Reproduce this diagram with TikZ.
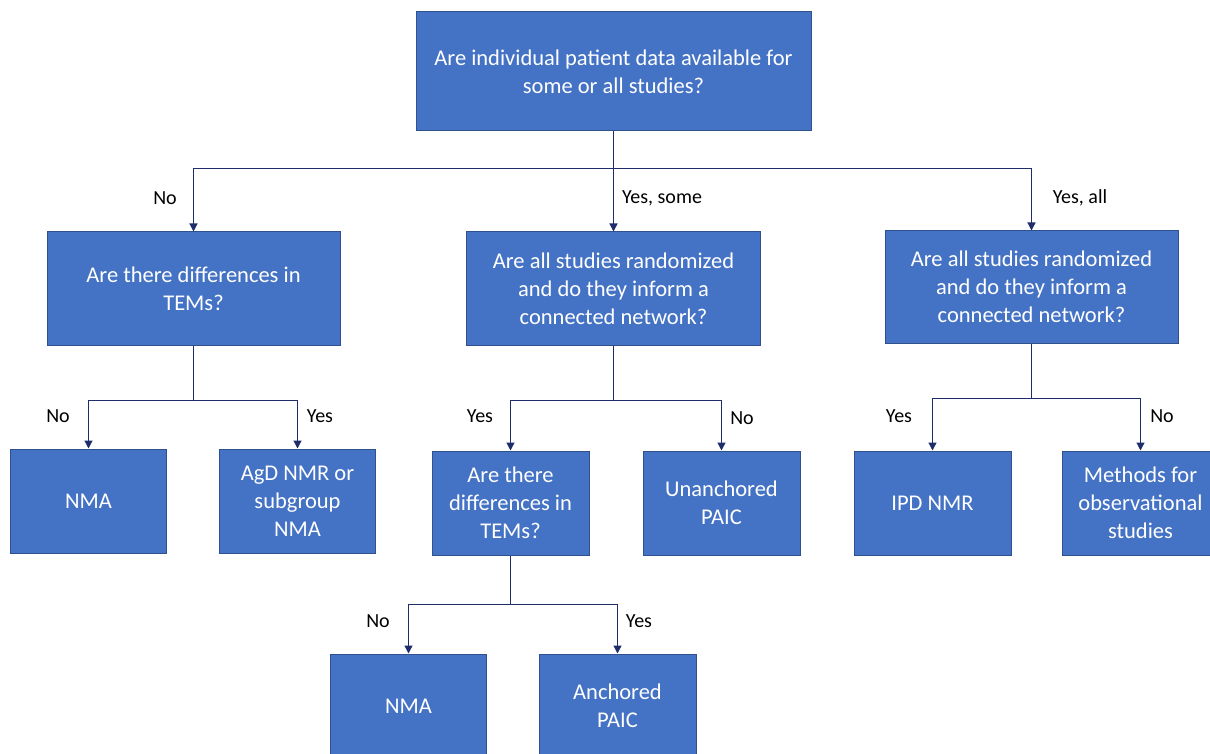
\documentclass[tikz,border=0pt]{standalone}
\usepackage{fontspec}
\setmainfont{Carlito}
\usetikzlibrary{arrows.meta}
\definecolor{BoxBlue}{RGB}{68,114,196}
\definecolor{BoxEdge}{RGB}{47,82,143}
\definecolor{LineNavy}{RGB}{31,45,107}

\begin{document}
\begin{tikzpicture}[x=1pt,y=-1pt,
  box/.style={draw=BoxEdge,line width=1pt,fill=BoxBlue,text=white,align=center,
    inner sep=0pt,font=\fontsize{22.5}{28}\selectfont},
  lbl/.style={font=\fontsize{20}{24}\selectfont,text=black},
  link/.style={draw=LineNavy,line width=1.3pt},
  arr/.style={link,-{Triangle[length=8pt,width=8pt]}}]
\useasboundingbox (0,0) rectangle (1210,754);

% questions
\node[box,minimum width=395pt,minimum height=119pt] (root) at (613.5,71.5)
  {Are individual patient data available for\\some or all studies?};
\node[box,minimum width=293pt,minimum height=113pt] (qL) at (193.5,288.5)
  {Are there differences in\\TEMs?};
\node[box,minimum width=294pt,minimum height=113pt] (qM) at (613.5,288.5)
  {Are all studies randomized\\and do they inform a\\connected network?};
\node[box,minimum width=293pt,minimum height=112pt] (qR) at (1031.5,287)
  {Are all studies randomized\\and do they inform a\\connected network?};
\node[box,minimum width=157pt,minimum height=104pt] (qM2) at (510.5,503)
  {Are there\\differences in\\TEMs?};

% outcomes
\node[box,minimum width=156pt,minimum height=104pt] (nmaL) at (88.5,501) {NMA};
\node[box,minimum width=156pt,minimum height=104pt] (agd) at (297.5,501)
  {AgD NMR or\\subgroup\\NMA};
\node[box,minimum width=157pt,minimum height=104pt] (unanch) at (721.5,503)
  {Unanchored\\PAIC};
\node[box,minimum width=157pt,minimum height=104pt] (ipd) at (932.5,503) {IPD NMR};
\node[box,minimum width=157pt,minimum height=104pt] (meth) at (1140.5,503)
  {Methods for\\observational\\studies};
\node[box,minimum width=156pt,minimum height=104pt] (nmaB) at (408.5,706) {NMA};
\node[box,minimum width=157pt,minimum height=104pt] (anch) at (617.5,706)
  {Anchored\\PAIC};

% connectors
\draw[link] (root.south) -- ++(0,37) coordinate (sRoot);
\draw[arr] (sRoot) -| (qL.north);
\draw[arr] (sRoot) -- (qM.north);
\draw[arr] (sRoot) -| (qR.north);
\foreach \from/\left/\right in {qL/nmaL/agd,qM/qM2/unanch,qR/ipd/meth}{
  \draw[link] (\from.south) -- ++(0,55) coordinate (s\from);
  \draw[arr] (s\from) -| (\left.north);
  \draw[arr] (s\from) -| (\right.north);
}
\draw[link] (qM2.south) -- ++(0,49) coordinate (sLow);
\draw[arr] (sLow) -| (nmaB.north);
\draw[arr] (sLow) -| (anch.north);

% branch labels
\node[lbl] (lNo) at (165,198) {No};
\node[lbl] (lSome) at (662,198) {Yes, some};
\node[lbl] (lAll) at (1080,198) {Yes, all};
\node[lbl] (lLno) at (58,416) {No};
\node[lbl] (lLyes) at (320,416) {Yes};
\node[lbl] (lMyes) at (480,416) {Yes};
\node[lbl] (lMno) at (742,418) {No};
\node[lbl] (lRyes) at (899,416) {Yes};
\node[lbl] (lRno) at (1162,416) {No};
\node[lbl] (lBno) at (378,621) {No};
\node[lbl] (lByes) at (639,621) {Yes};
\end{tikzpicture}
\end{document}
